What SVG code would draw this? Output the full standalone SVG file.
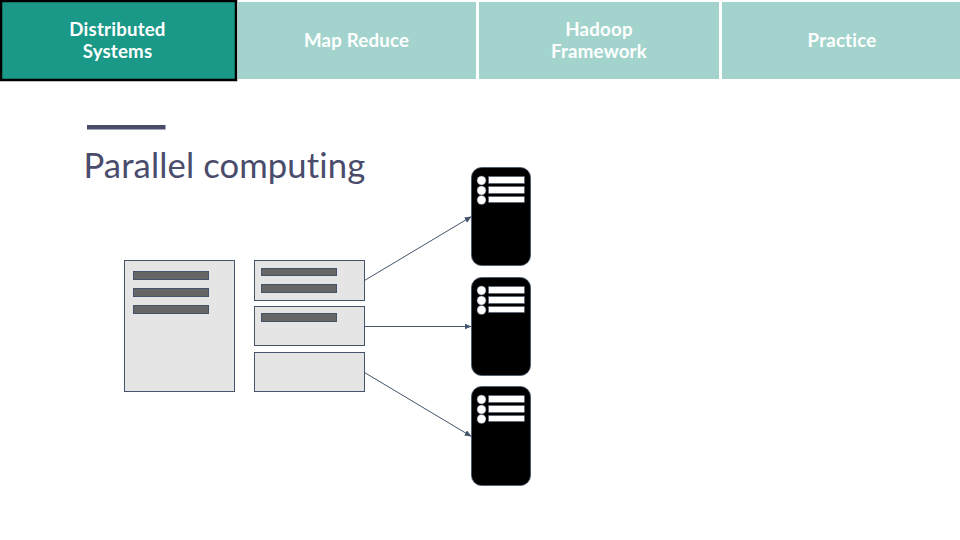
<svg xmlns="http://www.w3.org/2000/svg" xmlns:xlink="http://www.w3.org/1999/xlink" width="960" height="540" viewBox="0 0 960 540">
<style>
.tab{fill:#a2d4cd}
.tt{font-family:Lato,"Liberation Sans",sans-serif;font-size:18.670px;font-weight:700;fill:#fff;text-anchor:middle;font-variant-ligatures:none;letter-spacing:0.200px}
.doc{fill:#e5e5e5;stroke:#44546a;stroke-width:1}
.bar{fill:#666;stroke:#44546a;stroke-width:1}
.conn{stroke:#44546a;stroke-width:1;fill:none;marker-end:url(#arr)}
.srv{fill:#000;stroke:#44546a;stroke-width:0.800}
.dot{fill:#fff;stroke:#44546a;stroke-width:0.500}
</style>
<defs>
<marker id="arr" markerWidth="8" markerHeight="7" refX="7" refY="3" orient="auto" markerUnits="userSpaceOnUse"><path d="M0 0L7 3L0 6z" fill="#44546a"/></marker>
<g id="rows">
<circle class="dot" cx="481.500" cy="180.500" r="4.500"/><circle class="dot" cx="481.500" cy="190.500" r="4.500"/><circle class="dot" cx="481.500" cy="200" r="4.500"/>
<rect class="dot" x="488.500" y="176.500" width="36" height="7"/>
<rect class="dot" x="488.500" y="186.500" width="36" height="7"/>
<rect class="dot" x="488.500" y="196.500" width="36" height="6"/>
</g>
</defs>
<rect width="960" height="540" fill="#fff"/>
<g id="tab-distributed"><rect x="1" y="1" width="235" height="79" fill="#1b9988" stroke="#000" stroke-width="2.500"/><text class="tt"><tspan x="117.500" y="36">Distributed</tspan><tspan x="117.500" y="58">Systems</tspan></text></g>
<g id="tab-mapreduce"><rect class="tab" x="238" y="2" width="238" height="77"/><text class="tt" x="356.500" y="47">Map Reduce</text></g>
<g id="tab-hadoop"><rect class="tab" x="479" y="2" width="240" height="77"/><text class="tt"><tspan x="599" y="36">Hadoop</tspan><tspan x="599" y="58">Framework</tspan></text></g>
<g id="tab-practice"><rect class="tab" x="722" y="2" width="238" height="77"/><text class="tt" x="842" y="47">Practice</text></g>
<g id="title"><rect x="87" y="125" width="78.500" height="4.500" fill="#4a4c6c"/><text x="83.500" y="178" font-family="Lato,'Liberation Sans',sans-serif" font-size="34.670" fill="#4a4c6c" style="font-variant-ligatures:none;letter-spacing:0.100px">Parallel computing</text></g>
<g id="source-doc"><rect class="doc" x="124.500" y="260.500" width="110" height="131"/><rect class="bar" x="133.500" y="271.500" width="75" height="8"/><rect class="bar" x="133.500" y="288.500" width="75" height="8"/><rect class="bar" x="133.500" y="305.500" width="75" height="8"/></g>
<g id="split-1"><rect class="doc" x="254.500" y="260.500" width="110" height="40"/><rect class="bar" x="261.500" y="268.500" width="75" height="7"/><rect class="bar" x="261.500" y="284.500" width="75" height="8"/></g>
<g id="split-2"><rect class="doc" x="254.500" y="306.500" width="110" height="39"/><rect class="bar" x="261.500" y="313.500" width="75" height="8"/></g>
<g id="split-3"><rect class="doc" x="254.500" y="352.500" width="110" height="39"/></g>
<g id="connectors">
<line class="conn" x1="364.500" y1="280.500" x2="471.500" y2="216.500"/>
<line class="conn" x1="364.500" y1="326.500" x2="471.500" y2="326.500"/>
<line class="conn" x1="364.500" y1="372.500" x2="471.500" y2="436.500"/>
</g>
<g id="server-1"><rect class="srv" x="471.500" y="167.500" width="59" height="98" rx="10"/><use xlink:href="#rows" href="#rows"/></g>
<g id="server-2"><rect class="srv" x="471.500" y="277.500" width="59" height="98" rx="10"/><use xlink:href="#rows" href="#rows" y="110"/></g>
<g id="server-3"><rect class="srv" x="471.500" y="386.500" width="59" height="99" rx="10"/><use xlink:href="#rows" href="#rows" y="219"/></g>
</svg>
